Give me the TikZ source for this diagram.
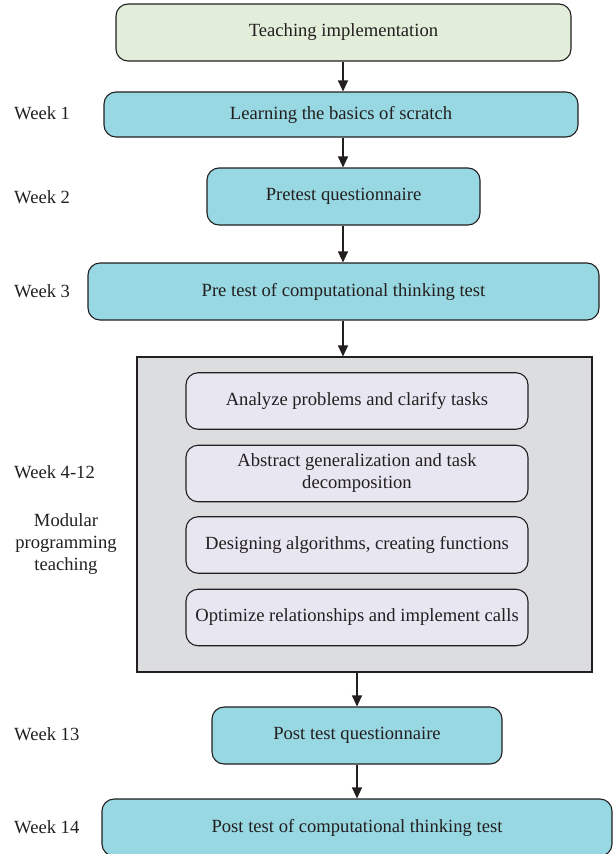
\documentclass[tikz,border=0pt]{standalone}
\usepackage{fontspec}
\setmainfont{Liberation Serif}
\usetikzlibrary{arrows.meta}
\definecolor{inkc}{HTML}{231F20}
\definecolor{startfill}{HTML}{E2EDDA}
\definecolor{stepfill}{HTML}{98D8E2}
\definecolor{groupfill}{HTML}{DCDDDF}
\definecolor{subfill}{HTML}{E8E6F0}
\tikzset{
  base/.style={draw=inkc, line width=1.1pt, rounded corners=12pt, text=inkc,
    font=\fontsize{18.6}{22}\selectfont, inner sep=0pt, align=center},
  startbox/.style={base, fill=startfill},
  stepbox/.style={base, fill=stepfill},
  subbox/.style={base, fill=subfill, minimum width=342pt, minimum height=56.5pt},
  groupbox/.style={draw=inkc, line width=1.1pt, fill=groupfill},
  weeklabel/.style={anchor=west, text=inkc, inner sep=0pt,
    font=\fontsize{18.6}{22}\selectfont},
  flow/.style={draw=inkc, line width=1.1pt, -{Triangle[length=11pt,width=10pt]}}
}
\begin{document}
\begin{tikzpicture}[x=1pt,y=-1pt]
\useasboundingbox (0,0) rectangle (613,854);
% main sequence of boxes
\node[startbox, minimum width=455pt, minimum height=57pt] (top) at (343.5,32.5) {Teaching implementation};
\node[stepbox, minimum width=474pt, minimum height=45pt] (b1) at (341,114.5) {Learning the basics of scratch};
\node[stepbox, minimum width=273pt, minimum height=57pt] (b2) at (343.5,196.5) {Pretest questionnaire};
\node[stepbox, minimum width=511pt, minimum height=57pt] (b3) at (343.5,291.5) {Pre test of computational thinking test};
% grouped module with its four stages
\node[groupbox, minimum width=455pt, minimum height=315pt, inner sep=0pt] (grp) at (364.5,514.5) {};
\node[subbox] (s1) at (357,401) {Analyze problems and clarify tasks};
\node[subbox] (s2) at (357,473.5) {Abstract generalization and task\\decomposition};
\node[subbox] (s3) at (357,545) {Designing algorithms, creating functions};
\node[subbox] (s4) at (357,617.5) {Optimize relationships and implement calls};
\node[stepbox, minimum width=290pt, minimum height=57pt] (b4) at (357,735.5) {Post test questionnaire};
\node[stepbox, minimum width=510pt, minimum height=57pt] (b5) at (357,827.5) {Post test of computational thinking test};
% week labels
\node[weeklabel] (w1) at (14,113) {Week 1};
\node[weeklabel] (w2) at (14,197) {Week 2};
\node[weeklabel] (w3) at (14,291) {Week 3};
\node[weeklabel] (w4) at (14,472) {Week 4-12};
\node[text=inkc, inner sep=0pt, align=center, font=\fontsize{18.6}{22}\selectfont] (mod) at (66,544) {Modular\\programming\\teaching};
\node[weeklabel] (w13) at (14,734) {Week 13};
\node[weeklabel] (w14) at (14,827) {Week 14};
% connectors
\draw[flow] (top.south -| 343,0) -- (b1.north -| 343,0);
\draw[flow] (b1.south -| 343,0) -- (b2.north -| 343,0);
\draw[flow] (b2.south -| 343,0) -- (b3.north -| 343,0);
\draw[flow] (b3.south -| 343,0) -- (grp.north -| 343,0);
\draw[flow] (grp.south -| b4.north) -- (b4.north);
\draw[flow] (b4.south) -- (b5.north);
\end{tikzpicture}
\end{document}
